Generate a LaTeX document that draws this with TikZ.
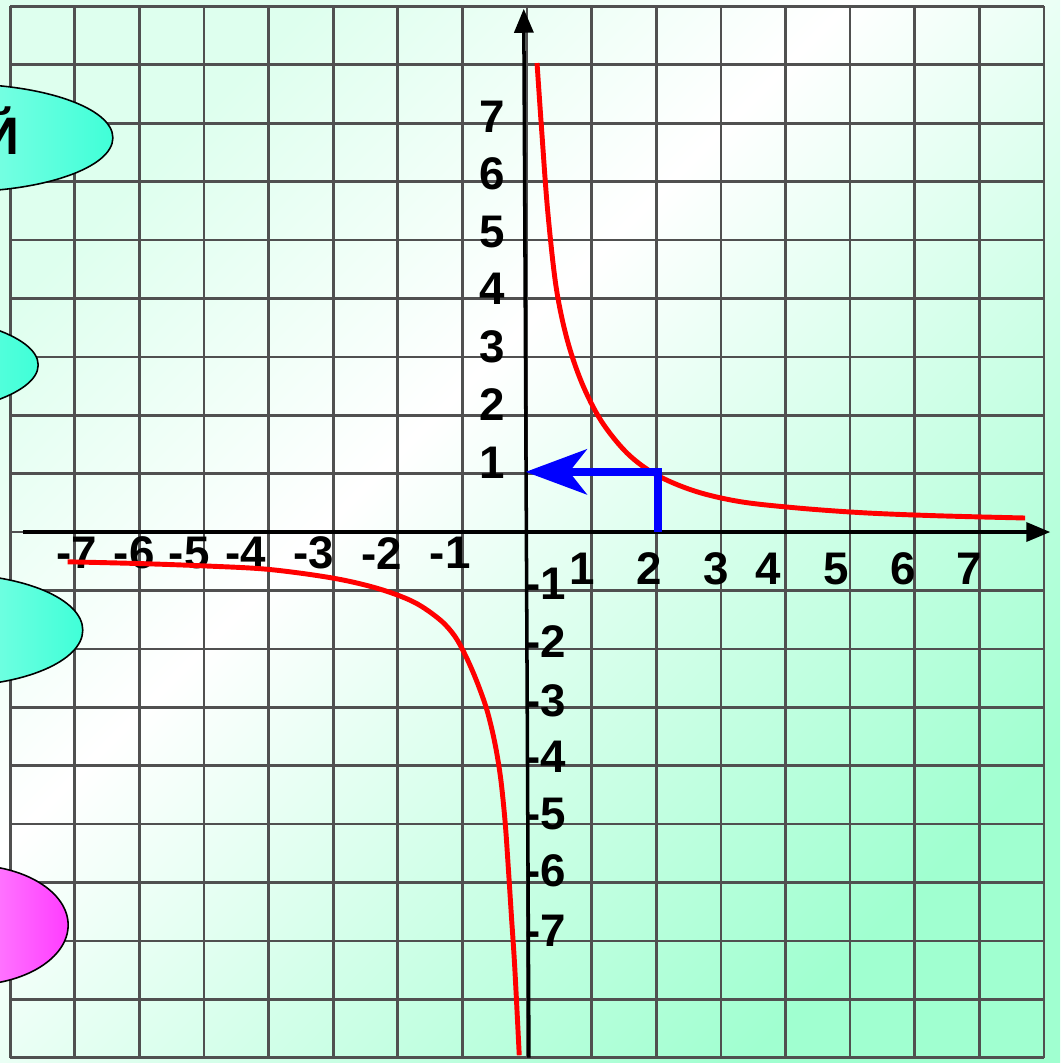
\documentclass[tikz,border=0pt]{standalone}
\usepackage{fontspec}
\setmainfont{Liberation Sans}
\usetikzlibrary{arrows.meta}

\definecolor{gridgray}{RGB}{80,80,80}
\definecolor{mintpale}{RGB}{222,255,238}
\definecolor{mintdeep}{RGB}{160,255,208}
\definecolor{aquabright}{RGB}{64,255,216}
\definecolor{aquapale}{RGB}{205,255,242}
\definecolor{pinkbright}{RGB}{255,60,255}
\definecolor{pinkpale}{RGB}{255,215,255}
\pgfdeclareverticalshading{bgmint}{100bp}{color(0bp)=(mintdeep); color(25bp)=(mintdeep); color(57bp)=(white); color(75bp)=(mintpale); color(100bp)=(mintpale)}

\begin{document}
\begin{tikzpicture}[x=1.292cm, y=1.168cm,
    gridline/.style={draw=gridgray, line width=1.5pt},
    axisline/.style={draw=black, line width=2pt, -{Triangle[length=0.48cm, width=0.38cm]}},
    tick/.style={font=\bfseries\fontsize{26}{26}\selectfont, inner sep=0pt},
    blob/.style={draw=black, line width=0.9pt},
    hyper/.style={draw=red, line width=2.8pt},
    marker/.style={draw=blue, line width=4.5pt, -{Stealth[length=1.22cm, width=0.9cm, inset=0.35cm]}}]
    \clip (-8.158,-9.092) rectangle (8.251,9.110);
    \shade[shading=bgmint, shading angle=45] (-8.158,-9.092) rectangle (8.251,9.110);

    \foreach \gx in {-8,...,8} \draw[gridline] (\gx,-9) -- (\gx,9);
    \foreach \gy in {-9,...,9} \draw[gridline] (-8,\gy) -- (8,\gy);

    \shade[blob, left color=aquapale, right color=aquabright] (-8.81,6.75) ellipse [x radius=3.1cm, y radius=1.08cm];
    \shade[blob, left color=aquapale, right color=aquabright] (-10.09,2.86) ellipse [x radius=3.26cm, y radius=1.06cm];
    \shade[blob, left color=aquapale, right color=aquabright] (-8.92,-1.68) ellipse [x radius=2.64cm, y radius=1.12cm];
    \shade[blob, left color=pinkpale, right color=pinkbright] (-8.62,-6.73) ellipse [x radius=1.96cm, y radius=1.2cm];
    \node[anchor=east, font=\bfseries\fontsize{30}{30}\selectfont, inner sep=0pt] (heading) at (-7.85,6.87) {Й};

    \coordinate (xstart) at (-7.80,0);
    \coordinate (xend) at (8.10,0);
    \coordinate (ystart) at (0.03,-9.0);
    \coordinate (yend) at (-0.05,8.96);
    \draw[axisline] (xstart) -- (xend);
    \draw[axisline] (ystart) -- (yend);

    \foreach \lab/\px [count=\i] in {-7/-6.97, -6/-6.08, -5/-5.23, -4/-4.35, -3/-3.30, -2/-2.25, -1/-1.19}
      \node[tick] (xneg\i) at (\px,-0.36) {\lab};
    \foreach \lab/\px [count=\i] in {1/0.85, 2/1.89, 3/2.93, 4/3.74, 5/4.78, 6/5.82, 7/6.84}
      \node[tick] (xpos\i) at (\px,-0.63) {\lab};
    \foreach \lab/\py [count=\i] in {7/7.11, 6/6.13, 5/5.14, 4/4.16, 3/3.17, 2/2.18, 1/1.19}
      \node[tick] (ypos\i) at (-0.54,\py) {\lab};
    \foreach \lab/\py [count=\i] in {-1/-0.89, -2/-1.87, -3/-2.89, -4/-3.85, -5/-4.83, -6/-5.80, -7/-6.82}
      \node[tick] (yneg\i) at (0.29,\py) {\lab};

    \draw[hyper] plot[smooth, tension=0.55] coordinates {(0.155,8.03) (0.23,6.83) (0.32,5.5) (0.45,4.2) (0.62,3.3) (0.85,2.55) (1.15,1.9) (1.55,1.35) (2.0,0.98) (2.6,0.70) (3.3,0.52) (4.2,0.41) (5.2,0.33) (6.3,0.28) (7.71,0.24)};
    \draw[hyper] plot[smooth, tension=0.55] coordinates {(-7.11,-0.51) (-6.0,-0.54) (-5.0,-0.58) (-4.0,-0.64) (-3.0,-0.79) (-2.3,-0.97) (-1.75,-1.2) (-1.35,-1.5) (-1.12,-1.78) (-0.95,-2.12) (-0.78,-2.55) (-0.62,-3.05) (-0.5,-3.6) (-0.41,-4.2) (-0.34,-4.95) (-0.29,-5.74) (-0.24,-6.6) (-0.19,-7.45) (-0.12,-8.96)};

    \coordinate (xtwo) at (2.03,0);
    \coordinate (yone) at (-0.02,1.03);
    \draw[marker] (xtwo) |- (yone);
\end{tikzpicture}
\end{document}
